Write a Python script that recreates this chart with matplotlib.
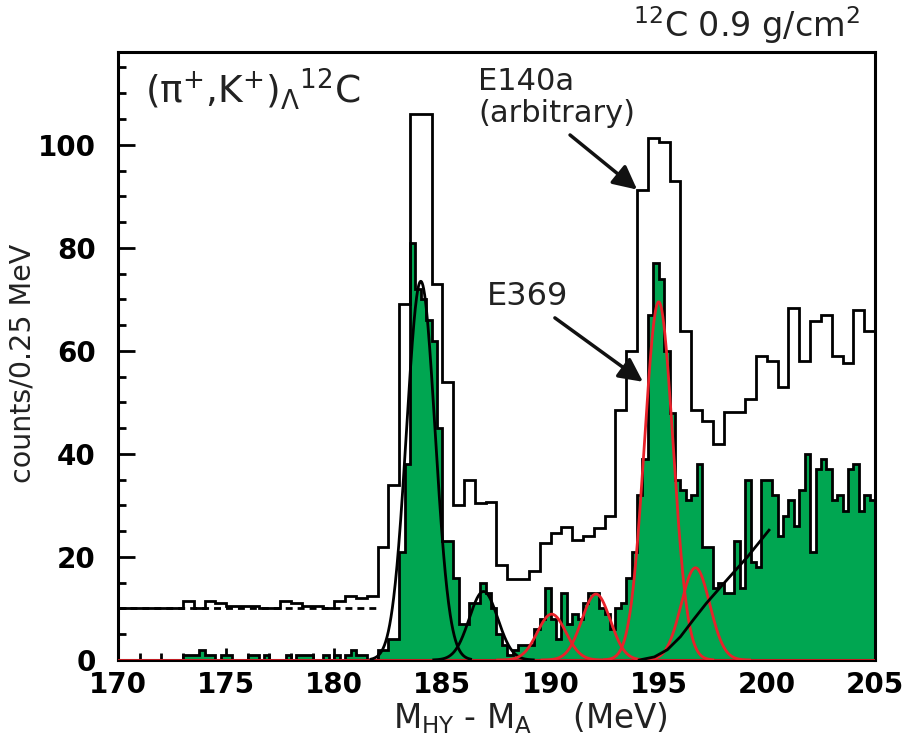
import numpy as np
import matplotlib.pyplot as plt
from matplotlib.ticker import MultipleLocator

plt.rcParams['font.family'] = 'DejaVu Sans'
plt.rcParams['mathtext.fontset'] = 'dejavusans'
plt.rcParams['mathtext.default'] = 'regular'

# E369 counts per 0.25 MeV bin, 170 -> 205 MeV (one row per MeV)
e369_counts = [
    0, 0, 0, 0,      # 170
    0, 0, 0, 0,      # 171
    0, 0, 0, 0,      # 172
    1, 1, 1, 2,      # 173
    1, 1, 0, 1,      # 174
    1, 0, 0, 0,      # 175
    1, 1, 0, 1,      # 176
    0, 0, 0, 1,      # 177
    0, 1, 1, 1,      # 178
    0, 0, 1, 0,      # 179
    1, 0, 1, 2,      # 180
    1, 1, 0, 0,      # 181
    2, 2, 4, 4,      # 182
    21, 38, 81, 72,  # 183
    70, 66, 62, 45,  # 184
    23, 23, 16, 7,   # 185
    7, 11, 11, 15,   # 186
    13, 10, 5, 3,    # 187
    1, 2, 3, 3,      # 188
    3, 6, 8, 14,     # 189
    8, 4, 13, 7,     # 190
    9, 8, 11, 13,    # 191
    13, 10, 9, 6,    # 192
    10, 11, 16, 21,  # 193
    32, 39, 67, 77,  # 194
    74, 60, 48, 35,  # 195
    33, 31, 32, 38,  # 196
    22, 22, 14, 15,  # 197
    13, 13, 23, 14,  # 198
    35, 19, 18, 35,  # 199
    35, 32, 24, 28,  # 200
    31, 26, 33, 40,  # 201
    21, 37, 39, 37,  # 202
    31, 32, 29, 37,  # 203
    38, 29, 32, 31,  # 204
]

# E140a (arbitrary scale) per 0.5 MeV bin, 170 -> 205 MeV
e140_counts = [
    10, 10, 10, 10, 10, 10,
    11.4, 10, 11.4, 11, 10.5, 10.5,
    10.5, 10, 10, 11.4, 11, 10.5,
    10.5, 10, 11.4, 12.4, 12, 12.4,
    22, 34, 69, 106, 106, 73,
    54, 30, 35, 30.5, 30.7, 18.4,
    15.7, 15.7, 17.2, 22.8, 24.7, 25.9,
    23.2, 24.1, 25.6, 28, 48.5, 59.9,
    91.3, 101.4, 100.5, 93, 63.8, 48.5,
    46.3, 42, 48.2, 48.2, 50.6, 59,
    58, 53, 68.3, 58, 65.7, 67,
    59, 57.7, 68, 63.8,
]

# fitted peaks: position (MeV), height (counts)
black_pos = [184.0, 186.9]
black_height = [73.5, 13.3]
red_pos = [190.05, 192.1, 195.0, 196.7]
red_height = [8.9, 12.8, 69.5, 17.9]
peak_sigma = 0.66

# background fit curve
bg_x = [194.1, 194.8, 195.4, 196.0, 196.6, 197.2, 198.1, 199.1, 200.1]
bg_y = [0, 0.6, 2.0, 4.5, 7.8, 11.0, 15.3, 20.0, 25.2]

green = '#00a651'
red = '#e8222a'

fig = plt.figure(figsize=(9.09, 7.43), dpi=100)
ax = fig.add_axes([0.1298, 0.1117, 0.8328, 0.8183])

edges_fine = np.linspace(170, 205, len(e369_counts) + 1)
edges_coarse = np.linspace(170, 205, len(e140_counts) + 1)

ax.stairs(e369_counts, edges_fine, fill=True, color=green, zorder=2)
ax.stairs(e369_counts, edges_fine, color='black', lw=2, zorder=3)
ax.stairs(e140_counts, edges_coarse, color='black', lw=2, zorder=3)

# flat level under threshold
ax.plot([170, 182], [10, 10], color='black', lw=2, dashes=(2.5, 1.8), zorder=3)

ax.axhline(0, color=red, lw=1.2, zorder=4)

for p, h in zip(black_pos, black_height):
    x = np.linspace(p - 2.3, p + 2.3, 300)
    ax.plot(x, h * np.exp(-0.5 * ((x - p) / peak_sigma) ** 2), color='black', lw=2, zorder=5)
for p, h in zip(red_pos, red_height):
    x = np.linspace(p - 2.5, p + 2.5, 300)
    ax.plot(x, h * np.exp(-0.5 * ((x - p) / peak_sigma) ** 2), color=red, lw=2, zorder=5)
ax.plot(bg_x, bg_y, color='black', lw=2, zorder=5)

ax.set_xlim(170, 205)
ax.set_ylim(0, 118)
ax.xaxis.set_major_locator(MultipleLocator(5))
ax.xaxis.set_minor_locator(MultipleLocator(1))
ax.yaxis.set_major_locator(MultipleLocator(20))
ax.yaxis.set_minor_locator(MultipleLocator(5))
ax.tick_params(which='both', direction='in', width=2, top=False, right=False)
ax.tick_params(axis='x', which='major', length=9, pad=8)
ax.tick_params(axis='x', which='minor', length=5)
ax.tick_params(axis='y', which='major', length=12, pad=16)
ax.tick_params(axis='y', which='minor', length=6)
for lab in ax.get_xticklabels() + ax.get_yticklabels():
    lab.set_fontsize(20)
    lab.set_fontweight('bold')
for s in ax.spines.values():
    s.set_linewidth(2.2)

ax.text(171.25, 108, r'($\pi^{+}$,K$^{+}$)$_{\Lambda}$$^{12}$C', fontsize=27, color='#222222')
ax.text(186.64, 110.7, 'E140a', fontsize=22, color='#222222')
ax.text(186.64, 104.5, '(arbitrary)', fontsize=22, color='#222222')
ax.text(187.06, 68.9, 'E369', fontsize=23, color='#222222')

arrow = dict(arrowstyle='-|>', lw=2.5, color='#111111', mutation_scale=36, shrinkA=0, shrinkB=0)
ax.annotate('', xy=(194.0, 91.3), xytext=(190.9, 101.9), arrowprops=arrow)
ax.annotate('', xy=(194.27, 54.0), xytext=(190.2, 66.4), arrowprops=arrow)

fig.text(0.946, 0.950, r'$^{12}$C 0.9 g/cm$^{2}$', fontsize=24, ha='right', va='baseline', color='#222222')
fig.text(0.432, 0.020, r'M$_{HY}$ - M$_{A}$    (MeV)', fontsize=23.5, ha='left', va='baseline', color='#222222')
fig.text(0.025, 0.511, 'counts/0.25 MeV', fontsize=20.5, rotation=90, ha='center', va='center', color='#222222')

fig.savefig('out.png', dpi=100)
